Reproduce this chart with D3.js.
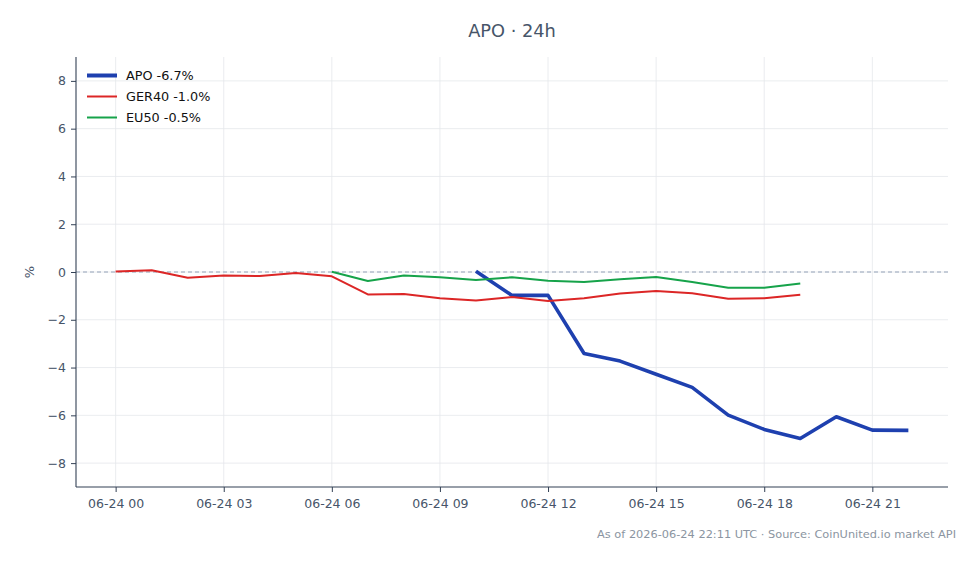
<!DOCTYPE html>
<html><head><meta charset="utf-8">
<script src="https://cdn.jsdelivr.net/npm/d3@7"></script>
<style>
body{margin:0;background:#fff;}
svg text{font-family:"DejaVu Sans",sans-serif;}
</style></head>
<body><svg id="c" width="980" height="564"></svg>
<script>
const title = "APO · 24h";
const footer = "As of 2026-06-24 22:11 UTC · Source: CoinUnited.io market API";
const startTime = "2026-06-24T00:00:00Z";
const apoHours = [10,11,12,13,14,15,16,17,18,19,20,21,22];
const apoValues = [0.03,-0.98,-0.98,-3.41,-3.73,-4.28,-4.83,-5.99,-6.59,-6.97,-6.06,-6.62,-6.63];
const gerHours = [0,1,2,3,4,5,6,7,8,9,10,11,12,13,14,15,16,17,18,19];
const gerValues = [0.02,0.07,-0.24,-0.15,-0.17,-0.04,-0.18,-0.94,-0.92,-1.1,-1.19,-1.05,-1.21,-1.1,-0.9,-0.8,-0.89,-1.12,-1.1,-0.95];
const euHours = [6,7,8,9,10,11,12,13,14,15,16,17,18,19];
const euValues = [0.01,-0.38,-0.15,-0.22,-0.33,-0.22,-0.37,-0.42,-0.3,-0.21,-0.42,-0.66,-0.66,-0.48];
const seriesNames = ["APO -6.7%","GER40 -1.0%","EU50 -0.5%"];
const yTicks = [-8,-6,-4,-2,0,2,4,6,8];
const xTickHours = [0,3,6,9,12,15,18,21];

const t0 = new Date(startTime);
const hr = h => new Date(t0.getTime() + h*3600e3);
const series = [
  {name:seriesNames[0], color:"#1e40af", w:3.6, lw:4, pts:apoHours.map((h,i)=>[hr(h),apoValues[i]])},
  {name:seriesNames[1], color:"#dc2626", w:2, lw:2, pts:gerHours.map((h,i)=>[hr(h),gerValues[i]])},
  {name:seriesNames[2], color:"#16a34a", w:2, lw:2, pts:euHours.map((h,i)=>[hr(h),euValues[i]])}
];

const L=76,R=948,T=57,B=487;
const svg = d3.select("#c");
const x = d3.scaleUtc().domain([hr(-1.1),hr(23.1)]).range([L,R]);
const y = d3.scaleLinear().domain([-9,9]).range([B,T]);
const txt="#475569";

// grid
svg.append("g").selectAll("line").data(xTickHours).join("line")
  .attr("x1",d=>x(hr(d))).attr("x2",d=>x(hr(d))).attr("y1",T).attr("y2",B)
  .attr("stroke","#e5e7eb").attr("stroke-width",0.8);
svg.append("g").selectAll("line").data(yTicks).join("line")
  .attr("x1",L).attr("x2",R).attr("y1",d=>y(d)).attr("y2",d=>y(d))
  .attr("stroke","#e5e7eb").attr("stroke-width",0.8);

// zero line
svg.append("line").attr("x1",L).attr("x2",R).attr("y1",y(0)).attr("y2",y(0))
  .attr("stroke","#94a3b8").attr("stroke-width",1).attr("stroke-dasharray","4,3");

// axes
const fmt = d3.utcFormat("%m-%d %H");
const xa = svg.append("g").attr("transform",`translate(0,${B})`)
  .call(d3.axisBottom(x).tickValues(xTickHours.map(hr)).tickFormat(fmt).tickSize(5).tickPadding(7));
const ya = svg.append("g").attr("transform",`translate(${L},0)`)
  .call(d3.axisLeft(y).tickValues(yTicks).tickFormat(d=>d<0?"\u2212"+Math.abs(d):d).tickSize(5).tickPadding(5));
[xa,ya].forEach(a=>{
  a.select(".domain").attr("stroke","#334155").attr("stroke-width",1.1);
  a.selectAll(".tick line").attr("stroke","#334155");
  a.selectAll(".tick text").attr("fill",txt).style("font-size","12.5px").style("font-family","DejaVu Sans");
});
xa.select(".domain").attr("d",`M${L},0H${R}`);
ya.select(".domain").attr("d",`M0,${T}V${B}`);

// lines
const line = d3.line().x(d=>x(d[0])).y(d=>y(d[1]));
series.forEach(s=>{
  svg.append("path").datum(s.pts).attr("d",line).attr("fill","none")
    .attr("stroke",s.color).attr("stroke-width",s.w).attr("stroke-linejoin","round");
});

// legend
series.forEach((s,i)=>{
  const yy = 75.5 + i*21;
  svg.append("line").attr("x1",87).attr("x2",117).attr("y1",yy).attr("y2",yy)
    .attr("stroke",s.color).attr("stroke-width",s.lw);
  svg.append("text").attr("x",126).attr("y",yy+4.5).text(s.name)
    .style("font-size","12.8px").attr("fill","#111");
});

// title
svg.append("text").attr("x",(L+R)/2).attr("y",37).attr("text-anchor","middle")
  .text(title).style("font-size","17.8px").attr("fill","#475569");
// y label
svg.append("text").attr("transform",`translate(34,${y(0)}) rotate(-90)`).attr("text-anchor","middle")
  .text("%").style("font-size","13px").attr("fill",txt);
// footer
svg.append("text").attr("x",956).attr("y",538).attr("text-anchor","end")
  .text(footer).style("font-size","11.35px").attr("fill","#8b95a1");
</script></body></html>
